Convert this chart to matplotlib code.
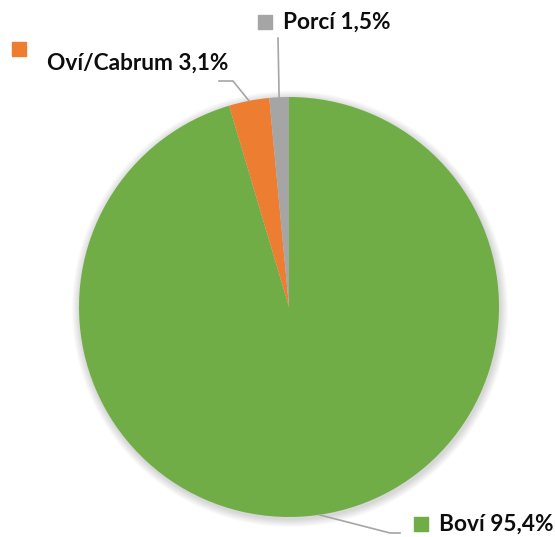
import numpy as np
import matplotlib
matplotlib.use('Agg')
from matplotlib import pyplot as plt
from matplotlib.patches import Circle

# Slice data (clockwise from 12 o'clock)
labels = ['Boví', 'Oví/Cabrum', 'Porcí']
shares = [95.4, 3.1, 1.5]
colors = ['#70AD47', '#ED7D31', '#A5A5A5']

plt.rcParams['font.family'] = ['Lato', 'DejaVu Sans']

W, H = 555, 537
fig = plt.figure(figsize=(W / 100, H / 100), dpi=100)
ax = fig.add_axes([0, 0, 1, 1])

cx, cy, r = 289, 230, 210

# soft shadow behind the pie
for i in range(8):
    ax.add_patch(Circle((cx + 1, cy - 2), r + 1 + i, color='black',
                        alpha=0.018, lw=0, zorder=0))

wedges, _ = ax.pie(shares, colors=colors, startangle=90, counterclock=False,
                   center=(cx, cy), radius=r, frame=True,
                   wedgeprops=dict(linewidth=0))
ax.set_xlim(0, W)
ax.set_ylim(0, H)
ax.set_aspect('equal')
ax.axis('off')

# label boxes: marker centre, text x (image pixels) and leader elbow points
label_pos = {
    'Porcí': dict(mk=(265, 22), tx=283, elbow=[(278, 38)]),
    'Oví/Cabrum': dict(mk=(19, 49), tx=47, ty=63, elbow=[(233, 81), (219, 81)]),
    'Boví': dict(mk=(421, 524), tx=439, elbow=[(390, 533), (400, 533)]),
}

for w, name, pct, col in zip(wedges, labels, shares, colors):
    mid = np.deg2rad((w.theta1 + w.theta2) / 2)
    ax_x = cx + r * np.cos(mid)
    ax_y = cy + r * np.sin(mid)
    p = label_pos[name]
    pts = [(ax_x, ax_y)] + [(x, H - y) for x, y in p['elbow']]
    xs, ys = zip(*pts)
    ax.plot(xs, ys, color='#A6A6A6', lw=1.2, zorder=3)
    mx, my = p['mk']
    ax.scatter([mx], [H - my], marker='s', s=90, color=col, zorder=4)
    ty = p.get('ty', my)
    ax.text(p['tx'], H - ty, f'{name} {pct:.1f}%'.replace('.', ','),
            fontsize=16.3, fontweight='bold', color='#0d0d0d',
            ha='left', va='center', zorder=4)

fig.savefig('out.png', dpi=100)
